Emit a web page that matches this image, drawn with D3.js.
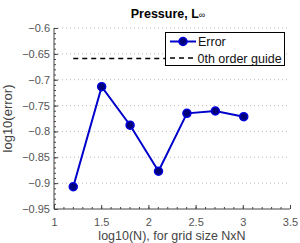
<!DOCTYPE html>
<html><head><meta charset="utf-8">
<script src="https://cdn.jsdelivr.net/npm/d3@7"></script>
<style>body{margin:0;background:#fff}svg{display:block}text{font-family:"Liberation Sans",Arial,sans-serif}</style>
</head><body><svg id="c" width="300" height="243"></svg>
<script>
const logN = [1.204, 1.505, 1.806, 2.107, 2.408, 2.709, 3.010];
const errorVals = [-0.907, -0.7135, -0.788, -0.877, -0.765, -0.7605, -0.7715];
const guideVal = [-0.659, -0.659];
const guideX = [1.204, 3.010];
const xTicks = [1, 1.5, 2, 2.5, 3, 3.5];
const yTicks = [-0.6, -0.65, -0.7, -0.75, -0.8, -0.85, -0.9, -0.95];

const svg = d3.select("#c");
const x = d3.scaleLinear().domain([1, 3.5]).range([54, 290]);
const y = d3.scaleLinear().domain([-0.95, -0.6]).range([209, 28]);
const fmt = v => String(v).replace("-", "\u2212");

// grid
svg.append("g").selectAll("line").data(yTicks.slice(0, -1)).join("line")
  .attr("x1", x(1)).attr("x2", x(3.5)).attr("y1", d => y(d)).attr("y2", d => y(d))
  .attr("stroke", "#bbb").attr("stroke-width", 1).attr("stroke-dasharray", "1,3");

// y axis
const yMinor = d3.range(-95, -59, 1).map(v => v / 100);
const ya = svg.append("g").attr("transform", `translate(${x(1)},0)`)
  .call(d3.axisRight(y).tickValues(yMinor).tickSize(2).tickFormat(""));
ya.select(".domain").remove();
ya.selectAll("line").attr("stroke", "#444");
const yb = svg.append("g").attr("transform", `translate(${x(1)},0)`)
  .call(d3.axisRight(y).tickValues(yTicks).tickSize(4).tickFormat(fmt));
yb.select(".domain").attr("stroke", "#444").attr("d", `M0,${y(-0.95)}V${y(-0.6)}`);
yb.selectAll("line").attr("stroke", "#444");
yb.selectAll("text").attr("x", -4).attr("text-anchor", "end").attr("fill", "#555").style("font-size", "11px");

// x axis
const xMinor = d3.range(10, 36, 1).map(v => v / 10);
const xa = svg.append("g").attr("transform", `translate(0,${y(-0.95)})`)
  .call(d3.axisTop(x).tickValues(xMinor).tickSize(2).tickFormat(""));
xa.select(".domain").remove();
xa.selectAll("line").attr("stroke", "#444");
const xb = svg.append("g").attr("transform", `translate(0,${y(-0.95)})`)
  .call(d3.axisTop(x).tickValues(xTicks).tickSize(4).tickFormat(d => String(d)));
xb.select(".domain").attr("stroke", "#444").attr("d", `M${x(1)},0H${x(3.5)}`);
xb.selectAll("line").attr("stroke", "#444");
xb.selectAll("text").attr("y", 9).attr("dy", "0.71em").attr("fill", "#555").style("font-size", "11px");

// guide
svg.append("line").attr("x1", x(guideX[0])).attr("x2", x(guideX[1]))
  .attr("y1", y(guideVal[0])).attr("y2", y(guideVal[1]))
  .attr("stroke", "#000").attr("stroke-width", 1.5).attr("stroke-dasharray", "5,4");

// error line
const pts = logN.map((v, i) => [v, errorVals[i]]);
svg.append("path").datum(pts).attr("fill", "none").attr("stroke", "#0000cc").attr("stroke-width", 2)
  .attr("d", d3.line().x(d => x(d[0])).y(d => y(d[1])));
svg.append("g").selectAll("circle").data(pts).join("circle")
  .attr("cx", d => x(d[0])).attr("cy", d => y(d[1])).attr("r", 4)
  .attr("fill", "#00007a").attr("stroke", "#0000dd").attr("stroke-width", 1.5);

// legend
const lg = svg.append("g");
lg.append("rect").attr("x", 165.5).attr("y", 32.5).attr("width", 119).attr("height", 33)
  .attr("fill", "#fff").attr("stroke", "#000").attr("stroke-width", 1);
lg.append("line").attr("x1", 170).attr("x2", 196).attr("y1", 41.5).attr("y2", 41.5)
  .attr("stroke", "#0000cc").attr("stroke-width", 2);
lg.append("circle").attr("cx", 183).attr("cy", 41.5).attr("r", 4)
  .attr("fill", "#00007a").attr("stroke", "#0000dd").attr("stroke-width", 1.5);
lg.append("text").attr("x", 198).attr("y", 46).text("Error").style("font-size", "12.5px").attr("fill", "#111");
lg.append("line").attr("x1", 170).attr("x2", 196).attr("y1", 58).attr("y2", 58)
  .attr("stroke", "#000").attr("stroke-width", 1.5).attr("stroke-dasharray", "5,4");
lg.append("text").attr("x", 197.5).attr("y", 62.5).text("0th order guide").style("font-size", "12.5px").attr("fill", "#111");

// title
const t = svg.append("text").attr("x", 168).attr("y", 18).attr("text-anchor", "middle")
  .style("font-size", "12.5px").style("font-weight", "bold").attr("fill", "#000");
t.append("tspan").text("Pressure, L");
t.append("tspan").text("\u221e").style("font-size", "9px").style("font-weight", "normal");

// axis labels
svg.append("text").attr("x", 172).attr("y", 240).attr("text-anchor", "middle")
  .style("font-size", "12.5px").attr("fill", "#444").text("log10(N), for grid size NxN");
svg.append("text").attr("transform", `translate(12,${(28 + 209) / 2}) rotate(-90)`)
  .attr("text-anchor", "middle").style("font-size", "13px").attr("fill", "#444").text("log10(error)");
</script></body></html>
